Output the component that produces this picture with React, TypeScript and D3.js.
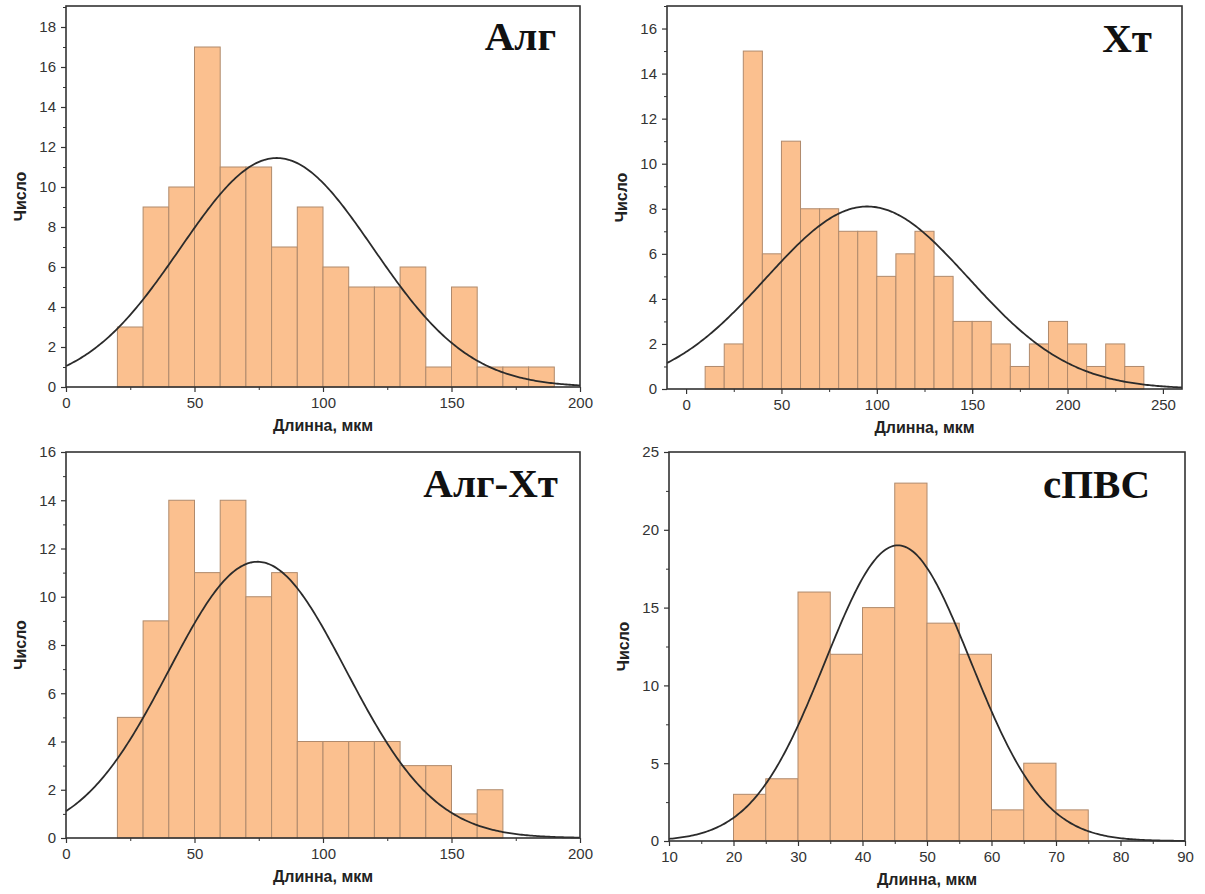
import React, { useEffect, useRef } from 'react';
import * as d3 from 'd3';

// Гистограммы распределения длины (Алг, Хт, Алг-Хт, сПВС)
const algBins = [20, 30, 40, 50, 60, 70, 80, 90, 100, 110, 120, 130, 140, 150, 160, 170, 180];
const algCounts = [3, 9, 10, 17, 11, 11, 7, 9, 6, 5, 5, 6, 1, 5, 1, 1, 1];
const algFit = { mean: 82, sd: 37.5, amp: 11.45 };

const xtBins = [10, 20, 30, 40, 50, 60, 70, 80, 90, 100, 110, 120, 130, 140, 150, 160, 170, 180, 190, 200, 210, 220, 230];
const xtCounts = [1, 2, 15, 6, 11, 8, 8, 7, 7, 5, 6, 7, 5, 3, 3, 2, 1, 2, 3, 2, 1, 2, 1];
const xtFit = { mean: 95, sd: 53.2, amp: 8.1 };

const algXtBins = [20, 30, 40, 50, 60, 70, 80, 90, 100, 110, 120, 130, 140, 150, 160];
const algXtCounts = [5, 9, 14, 11, 14, 10, 11, 4, 4, 4, 4, 3, 3, 1, 2];
const algXtFit = { mean: 74.5, sd: 34.5, amp: 11.45 };

const pvsBins = [20, 25, 30, 35, 40, 45, 50, 55, 60, 65, 70];
const pvsCounts = [3, 4, 16, 12, 15, 23, 14, 12, 2, 5, 2];
const pvsFit = { mean: 45.5, sd: 11.3, amp: 19 };

const xTicksWide = [0, 50, 100, 150, 200];
const xTicksXt = [0, 50, 100, 150, 200, 250];
const xTicksPvs = [10, 20, 30, 40, 50, 60, 70, 80, 90];

const panels = [
  {
    title: 'Алг', bins: algBins, counts: algCounts, width: 10, fit: algFit,
    box: { l: 66, r: 580, t: 6, b: 387 }, xDom: [0, 200], yDom: [0, 19.05],
    xTicks: xTicksWide, xMinor: 25, yMajor: 2, yMinor: 1, titleX: 556, titleY: 50
  },
  {
    title: 'Хт', bins: xtBins, counts: xtCounts, width: 10, fit: xtFit,
    box: { l: 667, r: 1182, t: 6, b: 389 }, xDom: [-10, 260], yDom: [0, 17],
    xTicks: xTicksXt, xMinor: 25, yMajor: 2, yMinor: 1, titleX: 1152, titleY: 52
  },
  {
    title: 'Алг-Хт', bins: algXtBins, counts: algXtCounts, width: 10, fit: algXtFit,
    box: { l: 66, r: 580, t: 452, b: 838 }, xDom: [0, 200], yDom: [0, 16],
    xTicks: xTicksWide, xMinor: 25, yMajor: 2, yMinor: 1, titleX: 558, titleY: 497
  },
  {
    title: 'сПВС', bins: pvsBins, counts: pvsCounts, width: 5, fit: pvsFit,
    box: { l: 669, r: 1185, t: 452, b: 841 }, xDom: [10, 90], yDom: [0, 25],
    xTicks: xTicksPvs, xMinor: 5, yMajor: 5, yMinor: 2.5, titleX: 1150, titleY: 498
  }
];

const App = () => {
  const svgRef = useRef(null);

  useEffect(() => {
    const svg = d3.select(svgRef.current);
    svg.selectAll('*').remove();

    panels.forEach(p => {
      const { l, r, t, b } = p.box;
      const x = d3.scaleLinear().domain(p.xDom).range([l, r]);
      const y = d3.scaleLinear().domain(p.yDom).range([b, t]);
      const g = svg.append('g');

      // столбцы
      g.selectAll('rect.bar')
        .data(p.counts)
        .enter().append('rect')
        .attr('class', 'bar')
        .attr('x', (d, i) => x(p.bins[i]))
        .attr('y', d => y(d))
        .attr('width', (d, i) => x(p.bins[i] + p.width) - x(p.bins[i]))
        .attr('height', d => y(0) - y(d))
        .attr('fill', '#FBC08F')
        .attr('stroke', '#b08a6c')
        .attr('stroke-width', 1);

      // кривая нормального распределения
      const xs = d3.range(p.xDom[0], p.xDom[1] + 0.001, (p.xDom[1] - p.xDom[0]) / 300);
      const line = d3.line()
        .x(d => x(d))
        .y(d => y(p.fit.amp * Math.exp(-((d - p.fit.mean) ** 2) / (2 * p.fit.sd ** 2))));
      g.append('path')
        .datum(xs)
        .attr('fill', 'none')
        .attr('stroke', '#2b2b2b')
        .attr('stroke-width', 1.8)
        .attr('d', line);

      // рамка
      g.append('rect')
        .attr('x', l).attr('y', t)
        .attr('width', r - l).attr('height', b - t)
        .attr('fill', 'none')
        .attr('stroke', '#333')
        .attr('stroke-width', 1.6);

      // оси
      const xMinorTicks = d3.range(Math.ceil(p.xDom[0] / p.xMinor) * p.xMinor, p.xDom[1] + 0.001, p.xMinor)
        .filter(v => !p.xTicks.includes(v));
      g.append('g')
        .attr('transform', `translate(0,${b})`)
        .call(d3.axisBottom(x).tickValues(xMinorTicks).tickSize(3).tickFormat(() => ''))
        .call(a => a.select('.domain').remove())
        .selectAll('line').attr('stroke', '#333');

      g.append('g')
        .attr('transform', `translate(0,${b})`)
        .call(d3.axisBottom(x).tickValues(p.xTicks).tickSize(5).tickPadding(5))
        .call(a => a.select('.domain').remove())
        .call(a => a.selectAll('line').attr('stroke', '#333').attr('stroke-width', 1.2))
        .selectAll('text')
        .style('font-family', '"Liberation Sans", Arial, sans-serif')
        .style('font-size', '15px')
        .style('fill', '#333');

      const yMajorTicks = d3.range(p.yDom[0], p.yDom[1] + 0.001, p.yMajor);
      const yMinorTicks = d3.range(p.yDom[0], p.yDom[1] + 0.001, p.yMinor)
        .filter(v => !yMajorTicks.includes(v));

      g.append('g')
        .attr('transform', `translate(${l},0)`)
        .call(d3.axisLeft(y).tickValues(yMinorTicks).tickSize(3).tickFormat(() => ''))
        .call(a => a.select('.domain').remove())
        .selectAll('line').attr('stroke', '#333');

      g.append('g')
        .attr('transform', `translate(${l},0)`)
        .call(d3.axisLeft(y).tickValues(yMajorTicks).tickSize(5).tickPadding(5).tickFormat(d3.format('d')))
        .call(a => a.select('.domain').remove())
        .call(a => a.selectAll('line').attr('stroke', '#333').attr('stroke-width', 1.2))
        .selectAll('text')
        .style('font-family', '"Liberation Sans", Arial, sans-serif')
        .style('font-size', '15px')
        .style('fill', '#333');

      // подписи осей
      g.append('text')
        .attr('x', (l + r) / 2)
        .attr('y', b + 44)
        .attr('text-anchor', 'middle')
        .style('font-family', '"Liberation Sans", Arial, sans-serif')
        .style('font-size', '16px')
        .style('font-weight', 'bold')
        .style('fill', '#222')
        .text('Длинна, мкм');

      g.append('text')
        .attr('transform', `translate(${l - 40},${(t + b) / 2}) rotate(-90)`)
        .attr('text-anchor', 'middle')
        .style('font-family', '"Liberation Sans", Arial, sans-serif')
        .style('font-size', '16px')
        .style('font-weight', 'bold')
        .style('fill', '#222')
        .text('Число');

      // заголовок
      g.append('text')
        .attr('x', p.titleX)
        .attr('y', p.titleY)
        .attr('text-anchor', 'end')
        .style('font-family', '"Liberation Serif", "Times New Roman", serif')
        .style('font-size', '41px')
        .style('font-weight', 'bold')
        .style('fill', '#111')
        .text(p.title);
    });
  }, []);

  return (
    <svg
      ref={svgRef}
      width={1205}
      height={894}
      style={{ position: 'absolute', left: 0, top: 0, background: '#fff' }}
    />
  );
};

export default App;
